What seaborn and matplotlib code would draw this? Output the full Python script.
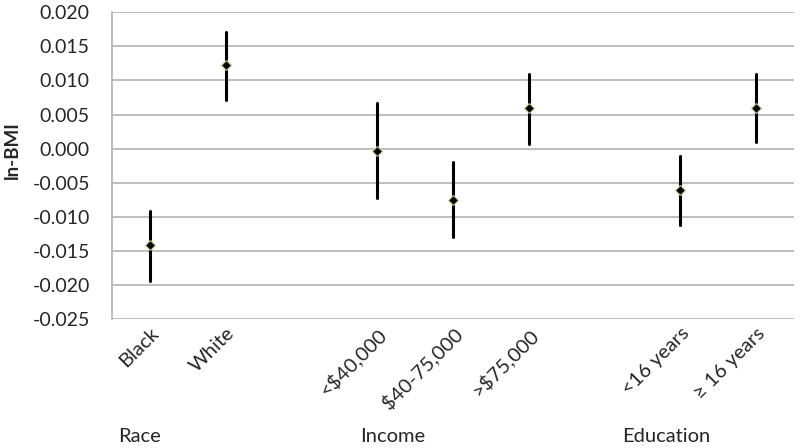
import numpy as np
import pandas as pd
import matplotlib
matplotlib.use("Agg")
import matplotlib.pyplot as plt
import seaborn as sns

# ---- data ----
categories = ["Black", "White", " ", "<$40,000", "$40-75,000", ">$75,000", "  ",
              "<16 years", "\u2265 16 years"]
plotted = ["Black", "White", "<$40,000", "$40-75,000", ">$75,000",
           "<16 years", "\u2265 16 years"]
estimate = [-0.0142, 0.0122, -0.0003, -0.0075, 0.0059, -0.0061, 0.0059]
ci_low = [-0.0194, 0.0072, -0.0073, -0.0130, 0.0007, -0.0112, 0.0009]
ci_high = [-0.0091, 0.0171, 0.0067, -0.0020, 0.0110, -0.0011, 0.0109]
group_labels = ["Race", "Income", "Education"]
yticks = [-0.025, -0.020, -0.015, -0.010, -0.005, 0.000, 0.005, 0.010, 0.015, 0.020]

# long form: low / estimate / high per category -> median + full range
rows = []
for c, lo, est, hi in zip(plotted, ci_low, estimate, ci_high):
    for v in (lo, est, hi):
        rows.append({"group": c, "value": v})
df = pd.DataFrame(rows)

sns.set_style("white")
plt.rcParams["font.family"] = ["Lato", "DejaVu Sans"]

fig = plt.figure(figsize=(8, 4.48), dpi=100)
ax = fig.add_axes([0.14, 0.288, 0.8525, 0.6845])

sns.pointplot(data=df, x="group", y="value", order=categories,
              estimator="median", errorbar=("pi", 100),
              linestyle="none", marker="D", markersize=5,
              color="black", markeredgecolor="#c9c98a", markeredgewidth=0.8,
              err_kws={"linewidth": 2.2, "color": "black"},
              ax=ax)
for ln in ax.lines:
    if ln.get_marker() == "D":
        ln.set_zorder(5)

ax.set_ylim(-0.025, 0.020)
ax.set_xlim(-0.5, len(categories) - 0.5)
ax.set_yticks(yticks)
ax.set_yticklabels([f"{t:.3f}" for t in yticks], fontsize=14)
ax.yaxis.grid(True, color="#b3b3b3", linewidth=1.2)
ax.set_axisbelow(True)
for s in ["top", "right", "bottom"]:
    ax.spines[s].set_visible(False)
ax.spines["left"].set_color("#b3b3b3")
ax.spines["left"].set_linewidth(1.2)
ax.tick_params(axis="y", length=0, pad=16)
ax.tick_params(axis="x", length=0, pad=4)

ax.set_xticks(range(len(categories)))
ax.set_xticklabels(categories, rotation=45, ha="right", rotation_mode="anchor",
                   fontsize=14.5)
ax.set_xlabel("")
ax.set_ylabel("ln-BMI", fontsize=13.5, fontweight="bold")
ax.yaxis.set_label_coords(-0.133, 0.55)

# group labels
for txt, xpx in zip(group_labels, [140, 393, 666]):
    fig.text(xpx / 800, 1 - 436 / 448, txt, ha="center", va="center", fontsize=14.5)

fig.savefig("out.png", dpi=100)
